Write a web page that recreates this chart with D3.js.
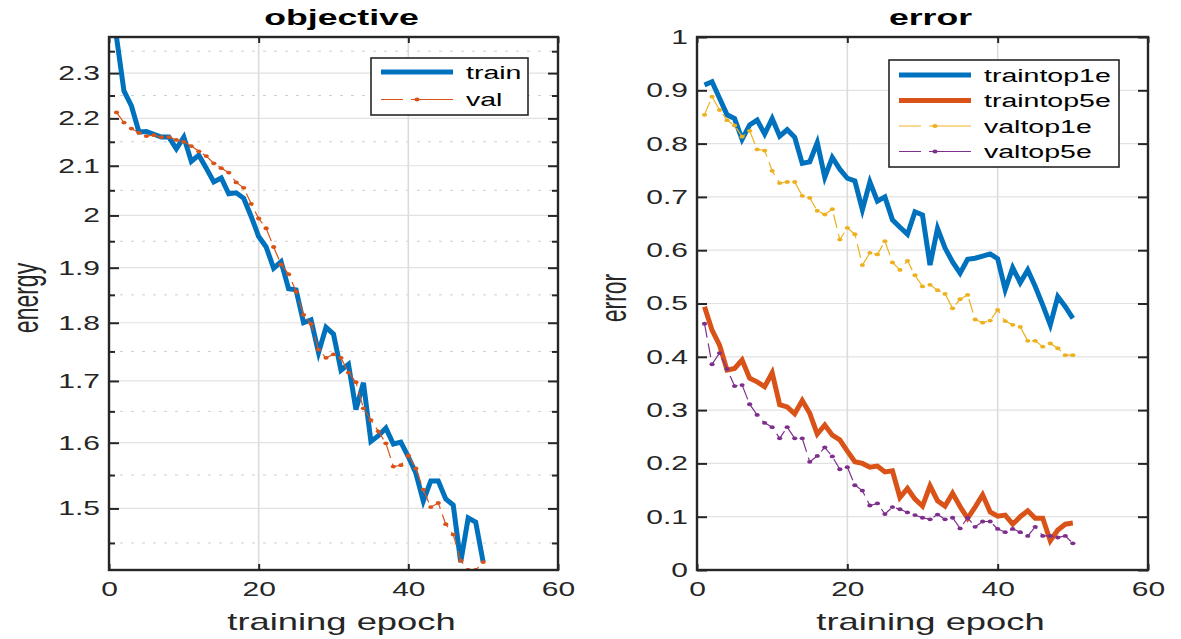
<!DOCTYPE html>
<html>
<head>
<meta charset="utf-8">
<script src="https://cdn.jsdelivr.net/npm/d3@7"></script>
<style>
  body { margin: 0; background: #fff; }
  svg { display: block; font-family: "Liberation Sans", Arial, Helvetica, sans-serif; }
</style>
</head>
<body>
<div class="figure"></div>
<script>
// epochs 1..50
var epochs = [1,2,3,4,5,6,7,8,9,10,11,12,13,14,15,16,17,18,19,20,21,22,23,24,25,
              26,27,28,29,30,31,32,33,34,35,36,37,38,39,40,41,42,43,44,45,46,47,48,49,50];

// objective (energy)
var objTrain = [2.383,2.260,2.227,2.171,2.172,2.166,2.160,2.160,2.135,2.160,2.109,2.122,2.095,2.067,2.075,
                2.043,2.045,2.034,1.998,1.959,1.939,1.899,1.911,1.861,1.859,1.800,1.805,1.748,1.792,1.780,
                1.718,1.728,1.653,1.697,1.602,1.611,1.623,1.598,1.601,1.578,1.553,1.511,1.541,1.541,1.514,
                1.505,1.423,1.486,1.480,1.423];
var objVal = [2.213,2.191,2.178,2.169,2.162,2.164,2.160,2.160,2.154,2.150,2.141,2.130,2.120,2.105,2.095,
              2.086,2.066,2.055,2.023,1.994,1.975,1.939,1.906,1.888,1.856,1.814,1.798,1.753,1.739,1.745,
              1.739,1.714,1.698,1.655,1.636,1.618,1.599,1.563,1.565,1.580,1.560,1.528,1.502,1.508,1.477,
              1.462,1.425,1.412,1.412,1.423];

// error
var top1Train = [0.910,0.916,0.885,0.854,0.847,0.808,0.835,0.844,0.818,0.847,0.814,0.826,0.812,0.763,0.766,
                 0.802,0.737,0.774,0.752,0.735,0.730,0.676,0.728,0.692,0.700,0.657,0.643,0.630,0.672,0.666,
                 0.572,0.641,0.604,0.578,0.557,0.583,0.585,0.589,0.593,0.584,0.526,0.567,0.539,0.563,0.532,
                 0.497,0.460,0.513,0.494,0.472];
var top5Train = [0.494,0.450,0.422,0.375,0.378,0.394,0.360,0.353,0.344,0.370,0.310,0.306,0.293,0.318,0.294,
                 0.255,0.272,0.253,0.244,0.223,0.203,0.200,0.193,0.195,0.184,0.186,0.136,0.153,0.133,0.120,
                 0.158,0.130,0.120,0.144,0.119,0.097,0.118,0.141,0.109,0.101,0.103,0.086,0.100,0.111,0.097,
                 0.097,0.055,0.075,0.086,0.088];
var top1Val = [0.854,0.888,0.863,0.844,0.834,0.813,0.824,0.789,0.787,0.749,0.726,0.728,0.728,0.702,0.698,
               0.674,0.667,0.677,0.620,0.642,0.630,0.572,0.595,0.592,0.617,0.577,0.563,0.580,0.553,0.532,
               0.535,0.525,0.518,0.491,0.508,0.516,0.470,0.464,0.468,0.488,0.467,0.460,0.456,0.430,0.430,
               0.419,0.425,0.416,0.403,0.403];
var top5Val = [0.462,0.386,0.407,0.377,0.345,0.347,0.311,0.291,0.276,0.268,0.247,0.268,0.247,0.247,0.203,
               0.214,0.230,0.213,0.189,0.193,0.159,0.149,0.121,0.125,0.105,0.118,0.114,0.108,0.103,0.098,
               0.095,0.104,0.095,0.098,0.078,0.098,0.081,0.091,0.091,0.077,0.071,0.077,0.071,0.064,0.081,
               0.064,0.064,0.061,0.064,0.050];

// ticks
var epochTicks = [0, 20, 40, 60];
var objTicks = [1.5, 1.6, 1.7, 1.8, 1.9, 2, 2.1, 2.2, 2.3];
var objMinorTicks = [1.45, 1.55, 1.65, 1.75, 1.85, 1.95, 2.05, 2.15, 2.25, 2.35];
var errTicks = [0, 0.1, 0.2, 0.3, 0.4, 0.5, 0.6, 0.7, 0.8, 0.9, 1];

var width = 1181, height = 639;
var top_ = 37, bottom_ = 570;
var stretch = 1.5;   // text in the picture is wider than tall
var ink = "#262626";

var svg = d3.select(".figure")
    .append("svg")
    .attr("width", width)
    .attr("height", height);

function addText(x, y, str, size, opts) {
    opts = opts || {};
    var sx = opts.sx || stretch;
    var tf = `translate(${x},${y}) scale(${sx},1)` + (opts.rotate ? " rotate(-90)" : "");
    return svg.append("text")
        .attr("transform", tf)
        .attr("text-anchor", opts.anchor || "middle")
        .attr("dominant-baseline", "central")
        .attr("font-size", size)
        .attr("font-weight", opts.bold ? "bold" : "normal")
        .attr("fill", opts.color || "#000")
        .text(str);
}

function setupPanel(p) {
    var x = d3.scaleLinear().domain([0, 60]).range([p.left, p.right]);
    var y = p.y;

    var clipId = "clip" + p.id;
    svg.append("clipPath").attr("id", clipId)
        .append("rect")
        .attr("x", p.left).attr("y", top_)
        .attr("width", p.right - p.left).attr("height", bottom_ - top_);

    var grid = svg.append("g");
    // minor dotted grid (log axis only)
    grid.selectAll("line.minor")
        .data(p.minor || [])
        .enter().append("line")
        .attr("x1", p.left).attr("x2", p.right)
        .attr("y1", function(d){return y(d);})
        .attr("y2", function(d){return y(d);})
        .attr("stroke", "#cfcfcf")
        .attr("stroke-width", 1)
        .attr("stroke-dasharray", "3,8");
    grid.selectAll("line.major")
        .data(p.yTicks)
        .enter().append("line")
        .attr("x1", p.left).attr("x2", p.right)
        .attr("y1", function(d){return y(d);})
        .attr("y2", function(d){return y(d);})
        .attr("stroke", "#e2e2e2")
        .attr("stroke-width", 1.2);
    grid.selectAll("line.vert")
        .data(epochTicks.slice(1, -1))
        .enter().append("line")
        .attr("x1", function(d){return x(d);})
        .attr("x2", function(d){return x(d);})
        .attr("y1", top_).attr("y2", bottom_)
        .attr("stroke", "#dcdcdc")
        .attr("stroke-width", 1.6);

    var plot = svg.append("g").attr("clip-path", `url(#${clipId})`);
    p.series.forEach(function(s) {
        var line = d3.line()
            .x(function(d, i){return x(epochs[i]);})
            .y(function(d){return y(d);});
        plot.append("path")
            .datum(s.values)
            .attr("d", line)
            .attr("fill", "none")
            .attr("stroke", s.color)
            .attr("stroke-width", s.thick ? 5 : 1.2)
            .attr("stroke-linejoin", "miter")
            .attr("stroke-dasharray", s.thick ? null : "14,6");
        if (!s.thick) {
            plot.selectAll(null)
                .data(s.values)
                .enter().append("ellipse")
                .attr("cx", function(d, i){return x(epochs[i]);})
                .attr("cy", function(d){return y(d);})
                .attr("rx", 2.6).attr("ry", 1.9)
                .attr("fill", s.color);
        }
    });

    // ticks via d3 axes, pointing inward
    var bottomAxis = svg.append("g")
        .attr("transform", `translate(0,${bottom_})`)
        .call(d3.axisBottom(x).tickValues(epochTicks).tickSizeInner(-6).tickSizeOuter(0).tickPadding(12));
    svg.append("g")
        .attr("transform", `translate(0,${top_})`)
        .call(d3.axisTop(x).tickValues(epochTicks).tickSizeInner(-6).tickSizeOuter(0).tickFormat(""));
    var leftAxis = svg.append("g")
        .attr("transform", `translate(${p.left},0)`)
        .call(d3.axisLeft(y).tickValues(p.yTicks).tickSizeInner(-10).tickSizeOuter(0).tickPadding(0)
            .tickFormat(function(d){return String(+d.toFixed(1));}));
    svg.append("g")
        .attr("transform", `translate(${p.right},0)`)
        .call(d3.axisRight(y).tickValues(p.yTicks).tickSizeInner(-10).tickSizeOuter(0).tickFormat(""));
    if (p.minor) {
        svg.append("g")
            .attr("transform", `translate(${p.left},0)`)
            .call(d3.axisLeft(y).tickValues(p.minor).tickSizeInner(-6).tickSizeOuter(0).tickFormat(""));
        svg.append("g")
            .attr("transform", `translate(${p.right},0)`)
            .call(d3.axisRight(y).tickValues(p.minor).tickSizeInner(-6).tickSizeOuter(0).tickFormat(""));
    }
    svg.selectAll(".domain").remove();
    svg.selectAll(".tick line").attr("stroke", ink).attr("stroke-width", 2);

    bottomAxis.selectAll("text")
        .attr("font-size", 20).attr("font-family", null).attr("fill", ink)
        .attr("transform", `scale(${stretch},1)`);
    leftAxis.selectAll("text")
        .attr("font-size", 20).attr("font-family", null).attr("fill", ink)
        .attr("x", -9 / stretch)
        .attr("transform", `scale(${stretch},1)`);
    bottomAxis.attr("font-family", null);
    leftAxis.attr("font-family", null);

    // box
    svg.append("rect")
        .attr("x", p.left).attr("y", top_)
        .attr("width", p.right - p.left).attr("height", bottom_ - top_)
        .attr("fill", "none")
        .attr("stroke", ink)
        .attr("stroke-width", 2.4);

    // texts
    var cx = (p.left + p.right) / 2 + 8;
    addText(cx, 17, p.title, 22, {bold: true, sx: 1.62});
    addText(cx, 622, "training epoch", 23, {sx: 1.58, color: ink});
    addText(p.left - 84, 298, p.ylabel, 23, {rotate: true, sx: 1.58, color: ink});

    // legend
    var lg = p.legend;
    svg.append("rect")
        .attr("x", lg.x).attr("y", lg.y)
        .attr("width", lg.w).attr("height", lg.h)
        .attr("fill", "#fff")
        .attr("stroke", ink)
        .attr("stroke-width", 1.6);
    p.series.forEach(function(s, i) {
        var ly = lg.y + lg.first + i * lg.step;
        svg.append("line")
            .attr("x1", lg.x + 10).attr("x2", lg.x + 82)
            .attr("y1", ly).attr("y2", ly)
            .attr("stroke", s.color)
            .attr("stroke-width", s.thick ? 5 : 1.2)
            .attr("stroke-dasharray", s.thick ? null : "22,8,42");
        if (!s.thick) {
            svg.append("ellipse")
                .attr("cx", lg.x + 46).attr("cy", ly)
                .attr("rx", 2.6).attr("ry", 1.9)
                .attr("fill", s.color);
        }
        addText(lg.x + 95, ly, s.name, 19, {anchor: "start", color: "#000"});
    });
}

var objY = d3.scaleLog()
    .domain(d3.extent(objTrain.concat(objVal)))
    .range([bottom_, top_]);

var errY = d3.scaleLinear()
    .domain([0, 1])
    .range([bottom_, top_]);

setupPanel({
    id: 1, left: 109, right: 558, y: objY,
    yTicks: objTicks, minor: objMinorTicks,
    title: "objective", ylabel: "energy",
    series: [
        {name: "train", values: objTrain, color: "#0072BD", thick: true},
        {name: "val", values: objVal, color: "#D95319", thick: false}
    ],
    legend: {x: 371, y: 58, w: 157, h: 57, first: 14, step: 27.5}
});

setupPanel({
    id: 2, left: 697, right: 1148, y: errY,
    yTicks: errTicks, minor: null,
    title: "error", ylabel: "error",
    series: [
        {name: "traintop1e", values: top1Train, color: "#0072BD", thick: true},
        {name: "traintop5e", values: top5Train, color: "#D95319", thick: true},
        {name: "valtop1e", values: top1Val, color: "#EDB120", thick: false},
        {name: "valtop5e", values: top5Val, color: "#7E2F8E", thick: false}
    ],
    legend: {x: 889, y: 60, w: 230, h: 107, first: 15, step: 25.5}
});
</script>
</body>
</html>
